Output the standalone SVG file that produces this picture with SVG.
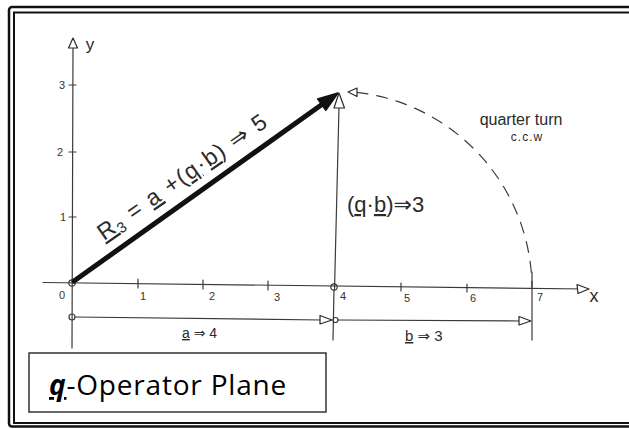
<svg xmlns="http://www.w3.org/2000/svg" width="629" height="429" viewBox="0 0 629 429">
<defs>
<style>
.ln{stroke:#3a3a3a;stroke-width:1.2;fill:none;stroke-linecap:round}
.hw{font-family:"Liberation Sans","DejaVu Sans",sans-serif;fill:#2a2a2a}
.tk{font-family:"Liberation Sans","DejaVu Sans",sans-serif;fill:#333;font-size:11px}
.oh{fill:#fff;stroke:#2a2a2a;stroke-width:1.2;stroke-linejoin:round}
</style>
</defs>
<rect width="629" height="429" fill="#fff"/>
<g id="frame">
<rect x="9" y="7" width="640" height="419.5" rx="3" fill="none" stroke="#111" stroke-width="2.5"/>
<rect x="14" y="12.5" width="640" height="410.5" fill="none" stroke="#111" stroke-width="2"/>
</g>
<g id="axes">
<line class="ln" x1="43" y1="282.5" x2="587" y2="289"/>
<polygon class="oh" points="589,289 577,284.5 578,293.5"/>
<line class="ln" x1="72" y1="348" x2="73" y2="46"/>
<polygon class="oh" points="73,38 68.5,48 77.5,48"/>
<g class="ln">
<line x1="138" y1="279" x2="138" y2="288"/>
<line x1="203" y1="280" x2="203" y2="289"/>
<line x1="268" y1="281" x2="268" y2="290"/>
<line x1="401" y1="283" x2="401" y2="291"/>
<line x1="467" y1="284" x2="467" y2="292"/>
<line x1="69" y1="85" x2="76" y2="85"/>
<line x1="69" y1="152" x2="76" y2="152"/>
<line x1="69" y1="217" x2="76" y2="217"/>
</g>
<circle class="ln" cx="72" cy="283" r="3.2"/>
<circle class="ln" cx="334" cy="287" r="3.2"/>
<text class="tk" x="62" y="299" text-anchor="middle" font-size="13">0</text>
<text class="tk" x="143" y="300" text-anchor="middle">1</text>
<text class="tk" x="212" y="300" text-anchor="middle">2</text>
<text class="tk" x="277" y="301" text-anchor="middle">3</text>
<text class="tk" x="343" y="300" text-anchor="middle">4</text>
<text class="tk" x="407" y="302" text-anchor="middle">5</text>
<text class="tk" x="473" y="302" text-anchor="middle">6</text>
<text class="tk" x="540" y="301" text-anchor="middle">7</text>
<text class="tk" x="62" y="89" text-anchor="middle">3</text>
<text class="tk" x="60" y="156" text-anchor="middle">2</text>
<text class="tk" x="63" y="221" text-anchor="middle">1</text>
<text class="hw" x="594" y="302" text-anchor="middle" font-size="18">x</text>
<text class="hw" x="90" y="50" text-anchor="middle" font-size="17">y</text>
</g>
<g id="connectors">
<line x1="74" y1="281" x2="324" y2="103" stroke="#111" stroke-width="5" stroke-linecap="round"/>
<polygon points="338,93 317.6,98.9 325.8,110.3" fill="#111" stroke="#111" stroke-width="1.5" stroke-linejoin="round"/>
<line class="ln" x1="334.5" y1="290" x2="339" y2="107"/>
<polygon class="oh" points="339,93 334,108 344.5,108"/>
<path class="ln" d="M357,92.3 A198,198 0 0 1 532,287" stroke-dasharray="11 9"/>
<polygon class="oh" points="348,92 357,88 357,96.5"/>
<line class="ln" x1="532" y1="272" x2="532" y2="340"/>
<line class="ln" x1="334" y1="290" x2="333" y2="340"/>
<circle class="ln" cx="72" cy="317" r="3"/>
<line class="ln" x1="75" y1="317" x2="322" y2="320"/>
<polygon class="oh" points="332,320 320,315.5 320,324"/>
<circle class="ln" cx="335.5" cy="320" r="2.5"/>
<line class="ln" x1="338" y1="320" x2="520" y2="321"/>
<polygon class="oh" points="531,321 519,316.5 519,325"/>
</g>
<g id="labels">
<text class="hw" font-size="23" letter-spacing="1.5" transform="translate(104,241) rotate(-35)"><tspan text-decoration="underline">R</tspan><tspan font-size="15" dy="4">3</tspan><tspan dy="-4"> = </tspan><tspan text-decoration="underline">a</tspan><tspan> +(</tspan><tspan text-decoration="underline">q</tspan><tspan>·</tspan><tspan text-decoration="underline">b</tspan><tspan>) ⇒ 5</tspan></text>
<text class="hw" font-size="22" x="347" y="212"><tspan>(</tspan><tspan text-decoration="underline">q</tspan><tspan>·</tspan><tspan text-decoration="underline">b</tspan><tspan>)⇒3</tspan></text>
<text class="hw" font-size="16" x="521" y="125" text-anchor="middle">quarter turn</text>
<text class="hw" font-size="12" letter-spacing="1" x="527" y="141" text-anchor="middle">c.c.w</text>
<text class="hw" font-size="14" x="182" y="338"><tspan text-decoration="underline">a</tspan><tspan> ⇒ 4</tspan></text>
<text class="hw" font-size="15" x="405" y="341"><tspan text-decoration="underline">b</tspan><tspan> ⇒ 3</tspan></text>
</g>
<g id="title">
<rect x="29" y="353" width="297" height="59" fill="#fff" stroke="#333" stroke-width="1.5"/>
<text x="49" y="395" font-family="'Open Sans','Liberation Sans',sans-serif" font-size="28" letter-spacing="0.8" fill="#000"><tspan font-weight="bold" font-style="italic" text-decoration="underline">q</tspan><tspan>-Operator Plane</tspan></text>
</g>
</svg>
